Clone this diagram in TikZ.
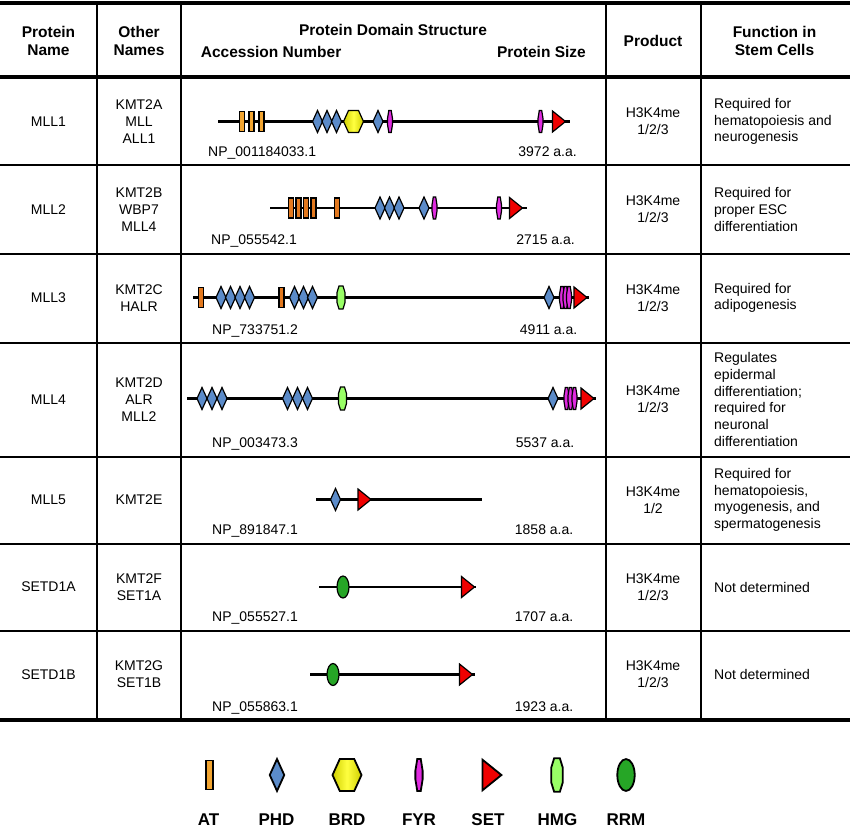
\documentclass[tikz,border=0pt]{standalone}
\usepackage{fontspec}
\setmainfont{Liberation Sans}
\usetikzlibrary{positioning}

\definecolor{atgold}{HTML}{F2A531}
\definecolor{atorange}{HTML}{E3791F}
\definecolor{phdblue}{HTML}{5B8BC9}
\definecolor{brdedge}{HTML}{CFCF00}
\definecolor{brdmid}{HTML}{FFFF40}
\definecolor{fyrpink}{HTML}{E02AE0}
\definecolor{setred}{HTML}{F00000}
\definecolor{hmggreen}{HTML}{99FF66}
\definecolor{rrmgreen}{HTML}{26A626}

\tikzset{
    dom/.style = {draw=black, line width=1.2pt},
    atbox/.pic = {\draw[dom, fill=atgold] (-2.5,-10) rectangle (2.5,10);},
    atdark/.pic = {\draw[dom, fill=atorange] (-2.5,-10) rectangle (2.5,10);},
    phd/.pic = {\draw[dom, fill=phdblue] (0,-11) -- (5,0) -- (0,11) -- (-5,0) -- cycle;},
    brd/.pic = {\draw[dom, left color=brdedge, right color=brdedge, middle color=brdmid]
        (-10,0) -- (-5,-11) -- (5,-11) -- (10,0) -- (5,11) -- (-5,11) -- cycle;},
    fyr/.pic = {\draw[dom, fill=fyrpink] (-1.2,-11) -- (1.2,-11) -- (2.5,-3) -- (2.5,3) -- (1.2,11)
        -- (-1.2,11) -- (-2.5,3) -- (-2.5,-3) -- cycle;},
    setdom/.pic = {\draw[dom, fill=setred] (-6.5,-10.5) -- (-6.5,10.5) -- (6.5,0) -- cycle;},
    hmg/.pic = {\draw[dom, fill=hmggreen] (-2,-11.5) -- (2,-11.5) -- (4,-5) -- (4,5) -- (2,11.5)
        -- (-2,11.5) -- (-4,5) -- (-4,-5) -- cycle;},
    rrm/.pic = {\draw[dom, fill=rrmgreen] (0,0) ellipse [x radius=6, y radius=11];},
}

\begin{document}
\begin{tikzpicture}[x=1pt, y=-1pt,
    txt/.style = {inner sep=0pt, align=center, font=\fontsize{14}{16.7}\selectfont},
    hdr/.style = {inner sep=0pt, align=center, font=\fontsize{15.5}{18.5}\selectfont\bfseries},
    lgd/.style = {inner sep=0pt, anchor=base, font=\fontsize{17}{20}\selectfont\bfseries},
    fn/.style = {txt, align=left, anchor=west},
    rule/.style = {line width=2pt},
    heavy/.style = {line width=4pt},
    backbone/.style = {line width=2.5pt}]
    \useasboundingbox (0,0) rectangle (850,827);

    % table rules
    \foreach \y in {165,254,342.5,456.5,543.5,631} \draw[rule] (0,\y) -- (850,\y);
    \foreach \x in {97,181,605.5,701} \draw[rule] (\x,2.5) -- (\x,720);
    \foreach \y in {2.5,77.3,720.3} \draw[heavy] (0,\y) -- (850,\y);

    % header
    \node[hdr] (hname) at (48.5,41) {Protein\\Name};
    \node[hdr] (hother) at (139,41) {Other\\Names};
    \node[hdr, anchor=base] (hdom) at (393,35.5) {Protein Domain Structure};
    \node[hdr, anchor=base west] (hacc) at (200.7,57.2) {Accession Number};
    \node[hdr, anchor=base east] (hsize) at (586,57.2) {Protein Size};
    \node[hdr] (hprod) at (653,41) {Product};
    \node[hdr] (hfunc) at (774.5,41) {Function in\\Stem Cells};

    % rows
    \foreach \r/\y/\pn/\on/\pr/\fn in {
        1/121.5/MLL1/{KMT2A\\MLL\\ALL1}/{1/2/3}/{Required for\\hematopoiesis and\\neurogenesis},
        2/209.5/MLL2/{KMT2B\\WBP7\\MLL4}/{1/2/3}/{Required for\\proper ESC\\differentiation},
        3/298/MLL3/{KMT2C\\HALR}/{1/2/3}/{Required for\\adipogenesis},
        4/399.5/MLL4/{KMT2D\\ALR\\MLL2}/{1/2/3}/{Regulates\\epidermal\\differentiation;\\required for\\neuronal\\differentiation},
        5/500/MLL5/{KMT2E}/{1/2}/{Required for\\hematopoiesis,\\myogenesis, and\\spermatogenesis},
        6/587/SETD1A/{KMT2F\\SET1A}/{1/2/3}/{Not determined},
        7/674.5/SETD1B/{KMT2G\\SET1B}/{1/2/3}/{Not determined}}
    {
        \node[txt] (pn\r) at (48.5,\y) {\pn};
        \node[txt] (on\r) at (139,\y) {\on};
        \node[txt] (pr\r) at (653,\y) {H3K4me\\\pr};
        \node[fn] (fn\r) at (714,\y) {\fn};
    }

    % accession numbers and sizes
    \foreach \r/\ly/\ax/\ac/\sx/\sz in {
        1/156.7/208/001184033.1/577/3972, 2/244/211/055542.1/575/2715,
        3/334/212/733751.2/577.5/4911, 4/447.7/212/003473.3/574.5/5537,
        5/534.3/212/891847.1/573.5/1858, 6/621.7/212/055527.1/573.5/1707,
        7/711/212/055863.1/573.5/1923}
    {
        \node[txt, anchor=base west] (ac\r) at (\ax,\ly) {NP\_\ac};
        \node[txt, anchor=base east] (sz\r) at (\sx,\ly) {\sz\ a.a.};
    }

    % protein backbones
    \foreach \r/\y/\xs/\xe in {1/121.5/218/570, 2/208/270/527, 3/297.5/193/589,
        4/398.5/187/596, 5/499.5/316/482, 6/587/319/476, 7/674.5/310/474.5}
    {
        \coordinate (s\r) at (\xs,\y);
        \coordinate (e\r) at (\xe,\y);
        \draw[backbone] (s\r) -- (e\r);
    }

    % domains
    \foreach \t/\x in {atbox/242, atbox/251.5, atbox/261.5, phd/317.5, phd/327, phd/336.5,
        brd/353.5, phd/378, fyr/390, fyr/540.5, setdom/559} \pic at (\x,121.5) {\t};
    \foreach \t/\x in {atdark/291, atdark/298.5, atdark/306, atdark/313.5, atdark/337,
        phd/380, phd/389.5, phd/399, phd/424, fyr/434.5, fyr/499, setdom/516} \pic at (\x,208) {\t};
    \foreach \t/\x in {atdark/201, phd/221, phd/230.5, phd/240, phd/249.5, atdark/281.5,
        phd/294.5, phd/303.5, phd/312.5, hmg/341, phd/549, fyr/562, fyr/565.5, fyr/569,
        setdom/580.5} \pic at (\x,297.5) {\t};
    \foreach \t/\x in {phd/202, phd/212, phd/222, phd/287.5, phd/297.5, phd/307.5,
        hmg/342.5, phd/553, fyr/566.5, fyr/570.5, fyr/574.5, setdom/587.5} \pic at (\x,398.5) {\t};
    \foreach \t/\x in {phd/335.5, setdom/364.5} \pic at (\x,499.5) {\t};
    \foreach \t/\x in {rrm/343, setdom/468} \pic at (\x,587) {\t};
    \foreach \t/\x in {rrm/333, setdom/466} \pic at (\x,674.5) {\t};

    % legend
    \foreach \t/\x/\lab/\lx in {atbox/209.5/AT/208.5, phd/277/PHD/276.5, brd/347/BRD/347,
        fyr/419/FYR/419, setdom/492/SET/488, hmg/557/HMG/557.5, rrm/626/RRM/626}
    {
        \pic[scale=1.45, dom/.append style={line width=1.8pt}] at (\x,775) {\t};
        \node[lgd] (lg\lab) at (\lx,825) {\lab};
    }
\end{tikzpicture}
\end{document}
